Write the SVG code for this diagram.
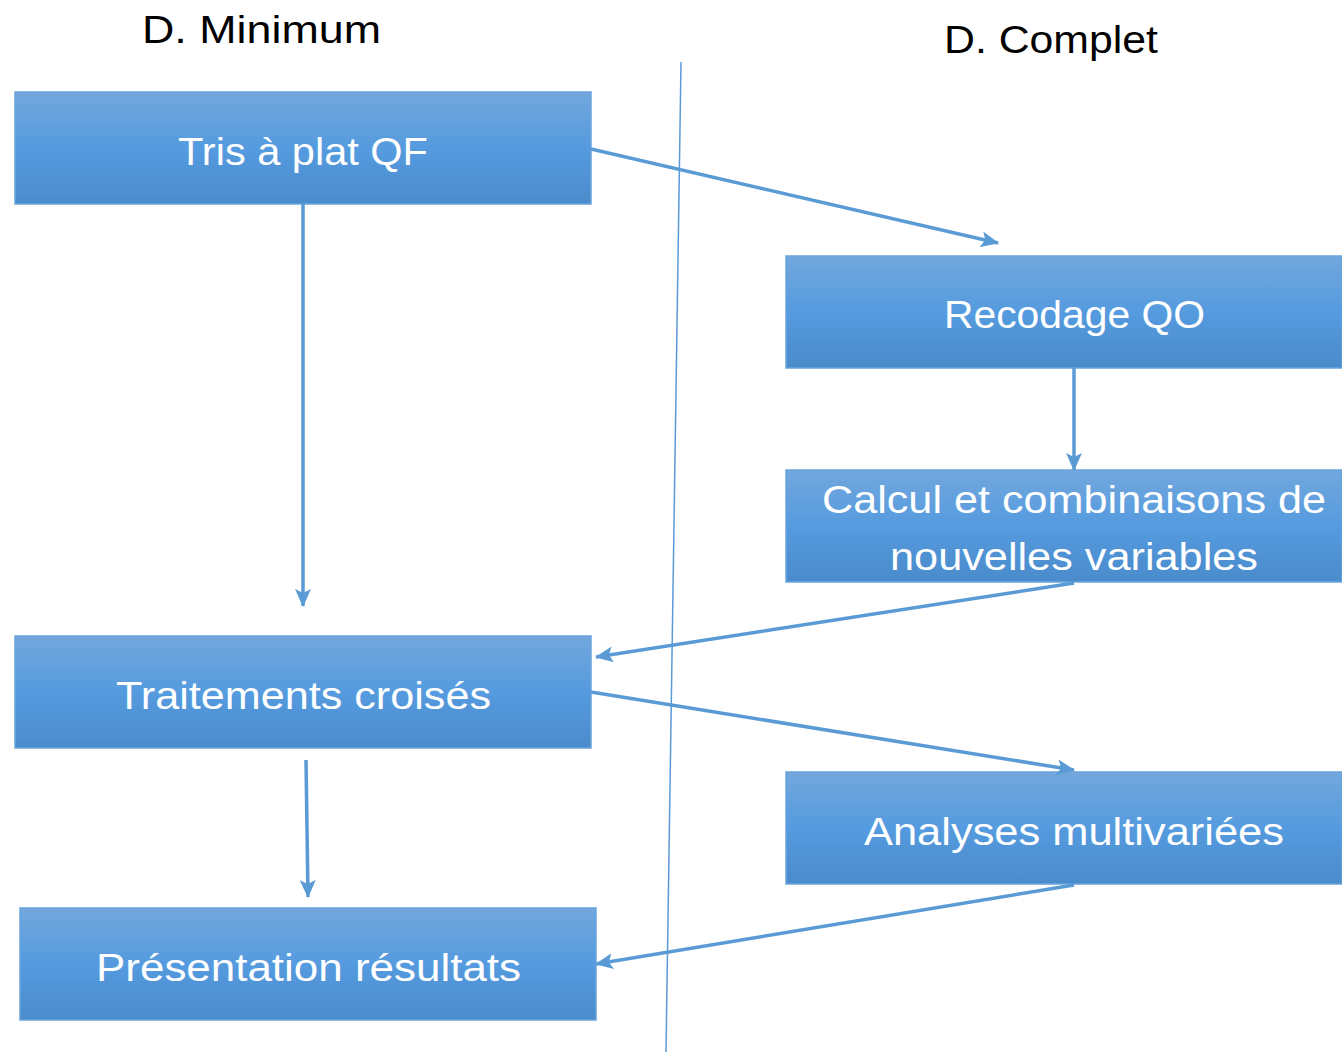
<svg xmlns="http://www.w3.org/2000/svg" width="1342" height="1054" viewBox="0 0 1342 1054">
<defs>
<linearGradient id="g" x1="0" y1="0" x2="0" y2="1">
<stop offset="0" stop-color="#72a7dd"/>
<stop offset="0.5" stop-color="#559bdf"/>
<stop offset="1" stop-color="#4a8bcb"/>
</linearGradient>
<marker id="ah" viewBox="0 0 18 16" refX="17" refY="8" markerWidth="18" markerHeight="16" markerUnits="userSpaceOnUse" orient="auto">
<path d="M0,0 L18,8 L0,16 L4,8 Z" fill="#5b9bd5"/>
</marker>
</defs>
<style>
.box{fill:url(#g);stroke:#6aa4dc;stroke-width:1.5}
.lbl{font-family:"Liberation Sans",Arial,sans-serif;font-size:38px;fill:#ffffff}
.ttl{font-family:"Liberation Sans",Arial,sans-serif;font-size:38px;fill:#000000}
.c{stroke:#5b9bd5;stroke-width:3.5;fill:none;marker-end:url(#ah)}
</style>
<rect width="1342" height="1054" fill="#ffffff"/>
<line x1="681" y1="62" x2="666" y2="1052" stroke="#5b9bd5" stroke-width="1.5"/>
<text class="ttl" x="142" y="43" textLength="239" lengthAdjust="spacingAndGlyphs">D. Minimum</text>
<text class="ttl" x="944" y="53" textLength="214" lengthAdjust="spacingAndGlyphs">D. Complet</text>
<g id="tris">
<rect class="box" x="15" y="92" width="576" height="112"/>
<text class="lbl" x="178" y="165" textLength="250" lengthAdjust="spacingAndGlyphs">Tris à plat QF</text>
</g>
<g id="recodage">
<rect class="box" x="786" y="256" width="556" height="112"/>
<text class="lbl" x="944" y="328" textLength="261" lengthAdjust="spacingAndGlyphs">Recodage QO</text>
</g>
<g id="calcul">
<rect class="box" x="786" y="470" width="556" height="112"/>
<text class="lbl" x="822" y="513" textLength="504" lengthAdjust="spacingAndGlyphs">Calcul et combinaisons de</text>
<text class="lbl" x="890" y="570" textLength="368" lengthAdjust="spacingAndGlyphs">nouvelles variables</text>
</g>
<g id="traitements">
<rect class="box" x="15" y="636" width="576" height="112"/>
<text class="lbl" x="116" y="709" textLength="375" lengthAdjust="spacingAndGlyphs">Traitements croisés</text>
</g>
<g id="analyses">
<rect class="box" x="786" y="772" width="556" height="112"/>
<text class="lbl" x="864" y="845" textLength="420" lengthAdjust="spacingAndGlyphs">Analyses multivariées</text>
</g>
<g id="presentation">
<rect class="box" x="20" y="908" width="576" height="112"/>
<text class="lbl" x="96" y="981" textLength="425" lengthAdjust="spacingAndGlyphs">Présentation résultats</text>
</g>
<g id="connectors">
<line class="c" x1="591" y1="149" x2="998" y2="243"/>
<line class="c" x1="303" y1="204" x2="303" y2="606"/>
<line class="c" x1="1074" y1="368" x2="1074" y2="470"/>
<line class="c" x1="1074" y1="583" x2="596" y2="657"/>
<line class="c" x1="591" y1="692" x2="1074" y2="770"/>
<line class="c" x1="306" y1="760" x2="308" y2="897"/>
<line class="c" x1="1074" y1="885" x2="596" y2="964"/>
</g>
</svg>
